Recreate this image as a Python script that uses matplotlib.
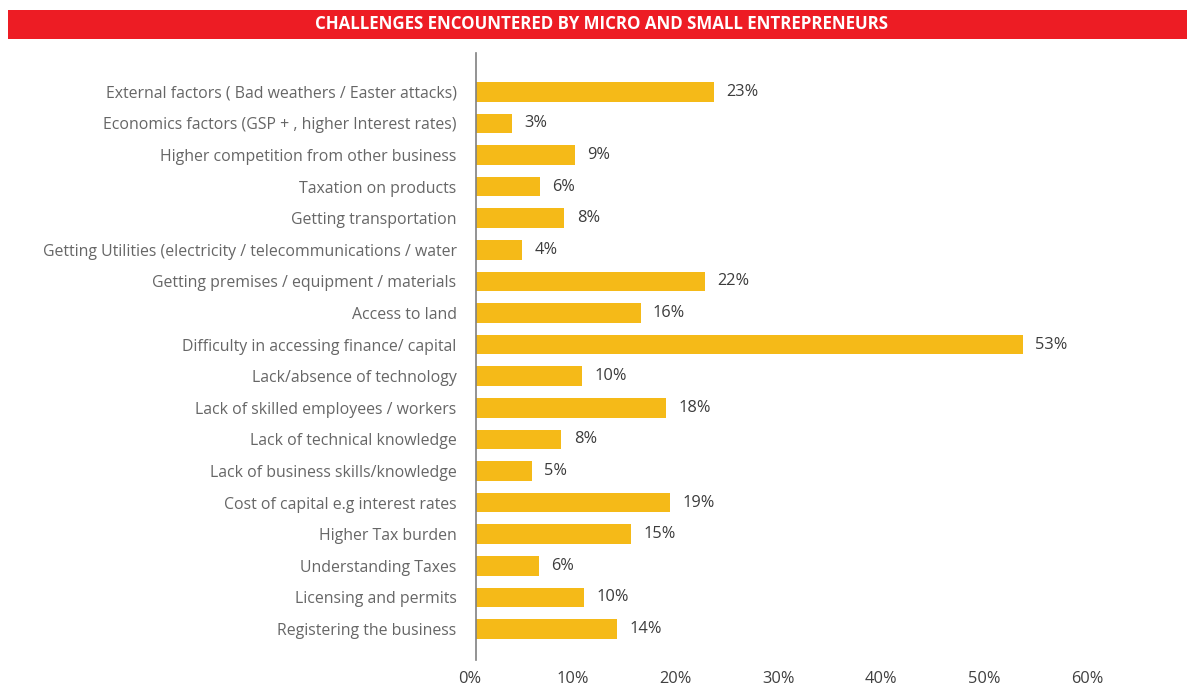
import matplotlib
matplotlib.use("Agg")
import matplotlib.pyplot as plt
import matplotlib.patches as patches
import matplotlib.transforms as mtransforms

# --- data (top to bottom, as in the chart) ---
challenges = [
    "External factors ( Bad weathers / Easter attacks)",
    "Economics factors (GSP + , higher Interest rates)",
    "Higher competition from other business",
    "Taxation on products",
    "Getting transportation",
    "Getting Utilities (electricity / telecommunications / water",
    "Getting premises / equipment / materials",
    "Access to land",
    "Difficulty in accessing finance/ capital",
    "Lack/absence of technology",
    "Lack of skilled employees / workers",
    "Lack of technical knowledge",
    "Lack of business skills/knowledge",
    "Cost of capital e.g interest rates",
    "Higher Tax burden",
    "Understanding Taxes",
    "Licensing and permits",
    "Registering the business",
]
shares = [23.1, 3.5, 9.6, 6.2, 8.6, 4.5, 22.3, 16.0, 53.2, 10.3,
          18.5, 8.3, 5.4, 18.9, 15.1, 6.1, 10.5, 13.7]
share_labels = ["23%", "3%", "9%", "6%", "8%", "4%", "22%", "16%", "53%", "10%",
                "18%", "8%", "5%", "19%", "15%", "6%", "10%", "14%"]
x_ticks = [0, 10, 20, 30, 40, 50, 60]
title = "CHALLENGES ENCOUNTERED BY MICRO AND SMALL ENTREPRENEURS"

RED = "#ED1C24"
BAR = "#F5BA18"
W, H = 1187, 691

plt.rcParams["font.family"] = ["Open Sans", "DejaVu Sans"]

fig = plt.figure(figsize=(W / 100, H / 100), dpi=100)

# red title band
fig.patches.append(patches.Rectangle((8 / W, 1 - 39 / H), 1 - 8 / W, 29 / H,
                                     transform=fig.transFigure, facecolor=RED,
                                     edgecolor="none", zorder=0))
fig.text(602 / W, 1 - 24 / H, title, color="white", fontsize=12.2,
         fontweight="bold", ha="center", va="center")

left, right, top, bottom = 476, 1093, 53, 660
ax = fig.add_axes([left / W, 1 - bottom / H, (right - left) / W, (bottom - top) / H])

ypos = list(range(len(challenges)))
ax.barh(ypos, shares, height=0.62, color=BAR, zorder=1)

for y, v, lab in zip(ypos, shares, share_labels):
    ax.text(v + 1.2, y, lab, va="center", ha="left", fontsize=11.8, color="#3c3c3c")

ax.set_xlim(0, 60)
ax.set_ylim(len(challenges) - 1 + 0.98, -1.23)
ax.set_yticks(ypos)
ax.set_yticklabels(challenges, fontsize=11.4, color="#666666")
ax.set_xticks(x_ticks)
ax.set_xticklabels([f"{t}%" for t in x_ticks], fontsize=11.8, color="#404040")
ax.tick_params(axis="both", length=0)
ax.tick_params(axis="y", pad=14)
ax.tick_params(axis="x", pad=8)

# tick labels in the original sit a little left of the gridline positions
shift = mtransforms.ScaledTranslation(-6 / 100, 0, fig.dpi_scale_trans)
for t in ax.get_xticklabels():
    t.set_transform(t.get_transform() + shift)

for s in ["top", "right", "bottom"]:
    ax.spines[s].set_visible(False)
ax.spines["left"].set_color("#808080")
ax.spines["left"].set_linewidth(1.2)
ax.spines["left"].set_zorder(3)

fig.savefig("out.png", dpi=100)
